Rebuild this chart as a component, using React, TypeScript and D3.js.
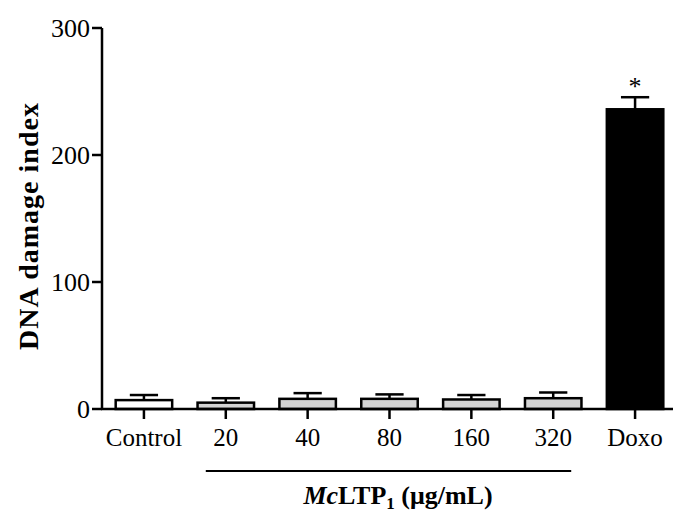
import React from "react";
import * as d3 from "d3";

const categories = ["Control", "20", "40", "80", "160", "320", "Doxo"];
const means = [7, 5, 8, 8, 7.5, 8.5, 236];
const errors = [4, 3.5, 4.5, 3.5, 3.5, 4.5, 9.5];
const fills = ["#ffffff", "#d4d4d4", "#d4d4d4", "#d4d4d4", "#d4d4d4", "#d4d4d4", "#000000"];
const yTicks = [0, 100, 200, 300];

const W = 673;
const H = 519;
const font = "'Liberation Serif', 'Times New Roman', serif";

export default function App() {
  const x = d3
    .scaleBand<string>()
    .domain(categories)
    .range([103, 676])
    .paddingInner(0.31)
    .paddingOuter(0.155);

  const y = d3.scaleLinear().domain([0, 300]).range([409, 28]);

  const bw = x.bandwidth();
  const cx = (c: string) => (x(c) as number) + bw / 2;

  return (
    <svg
      width={W}
      height={H}
      style={{ position: "absolute", left: 0, top: 0, background: "#fff" }}
      fontFamily={font}
    >
      {/* bars with upper error bars */}
      {categories.map((c, i) => (
        <g key={c}>
          <line
            x1={cx(c)}
            x2={cx(c)}
            y1={y(means[i])}
            y2={y(means[i] + errors[i])}
            stroke="#000"
            strokeWidth={2.5}
          />
          <line
            x1={cx(c) - bw / 4}
            x2={cx(c) + bw / 4}
            y1={y(means[i] + errors[i])}
            y2={y(means[i] + errors[i])}
            stroke="#000"
            strokeWidth={2.5}
          />
          <rect
            x={x(c)}
            y={y(means[i])}
            width={bw}
            height={y(0) - y(means[i])}
            fill={fills[i]}
            stroke="#000"
            strokeWidth={2.5}
          />
        </g>
      ))}

      {/* significance mark */}
      <text
        x={cx("Doxo")}
        y={y(means[6] + errors[6]) - 2}
        textAnchor="middle"
        fontSize={26}
      >
        *
      </text>

      {/* y axis */}
      <line x1={102} x2={102} y1={y(300)} y2={y(0) + 1} stroke="#000" strokeWidth={2.5} />
      {yTicks.map((t) => (
        <g key={t}>
          <line x1={92} x2={102} y1={y(t)} y2={y(t)} stroke="#000" strokeWidth={2.5} />
          <text x={90} y={y(t)} dy="0.35em" textAnchor="end" fontSize={26}>
            {t}
          </text>
        </g>
      ))}

      {/* x axis */}
      <line x1={101} x2={W} y1={y(0)} y2={y(0)} stroke="#000" strokeWidth={2.5} />
      {categories.map((c) => (
        <g key={c}>
          <line x1={cx(c)} x2={cx(c)} y1={y(0)} y2={y(0) + 10} stroke="#000" strokeWidth={2.5} />
          <text x={cx(c)} y={446} textAnchor="middle" fontSize={25}>
            {c}
          </text>
        </g>
      ))}

      {/* bracket under concentrations */}
      <line
        x1={cx("20") - 20}
        x2={cx("320") + 18}
        y1={471}
        y2={471}
        stroke="#000"
        strokeWidth={2}
      />
      <text x={398} y={504} textAnchor="middle" fontSize={26} fontWeight="bold">
        <tspan fontStyle="italic">Mc</tspan>
        <tspan>LTP</tspan>
        <tspan fontSize={17} dy={5}>1</tspan>
        <tspan dy={-5}> (μg/mL)</tspan>
      </text>

      {/* y title */}
      <text
        transform="translate(38,226) rotate(-90)"
        textAnchor="middle"
        fontSize={28}
        fontWeight="bold"
        letterSpacing={1}
      >
        DNA damage index
      </text>
    </svg>
  );
}
